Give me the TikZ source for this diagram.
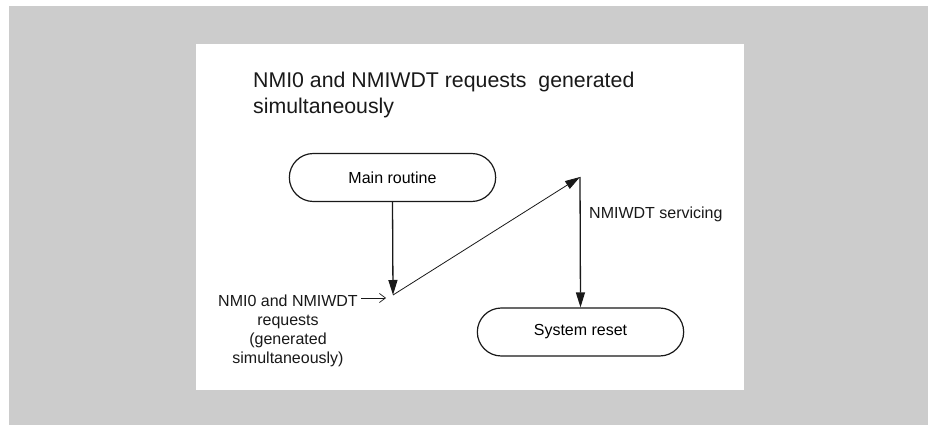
\documentclass[tikz,border=0pt]{standalone}
\usepackage{fontspec}
\setmainfont{Liberation Sans}
\usepackage{tikz}
\usetikzlibrary{arrows.meta,shapes.misc,positioning}
\usepackage{xcolor}
\definecolor{pagegray}{RGB}{204,204,204}
\definecolor{linegray}{RGB}{25,25,25}
\tikzstyle{state} = [rounded rectangle, draw=linegray, line width=1.2pt, fill=white, minimum width=213pt, minimum height=48pt, font=\fontsize{16}{19}\selectfont]
\tikzstyle{arrow} = [line width=1.3pt, draw=linegray, -{Triangle[length=15pt,width=9pt]}]
\tikzstyle{thinarrow} = [line width=0.8pt, draw=linegray, -{Triangle[length=15pt,width=9pt]}]
\tikzstyle{pointer} = [line width=0.7pt, draw=linegray, -{Straight Barb[length=6pt,width=9pt]}]
\tikzstyle{note} = [inner sep=0pt, text=linegray, font=\fontsize{16}{19}\selectfont]

\begin{document}
\begin{tikzpicture}[x=1pt, y=-1pt]
    \useasboundingbox (0,0) rectangle (928,425);
    % Background and panel
    \fill[pagegray] (9,6) rectangle (928,425);
    \fill[white] (196,44) rectangle (744,390);

    % Title
    \node[inner sep=0pt, anchor=north west, align=left, text=linegray, font=\fontsize{21.3}{26}\selectfont] (title) at (253,71.5) {NMI0 and NMIWDT requests\ \ generated\\simultaneously};

    % States
    \node[state] (main) at (392.5,177.5) {Main routine};
    \node[state] (reset) at (580.5,332) {System reset};

    % Turning points
    \coordinate (req) at (393,295);
    \coordinate (nmiwdt) at (580,177);
    \coordinate (reqtail) at (361,298);
    \coordinate (reqhead) at (386,298);

    % Labels
    \node[note, anchor=north, align=center] (reqlabel) at (288,294.5) {NMI0 and NMIWDT\\requests\\(generated\\simultaneously)};
    \node[note, anchor=base west] (servlabel) at (589,218) {NMIWDT servicing};

    % Connecting lines
    \draw[arrow] (main.south) -- (req);
    \draw[thinarrow] (req) -- (nmiwdt);
    \draw[arrow] (nmiwdt) -- (reset.north);
    \draw[pointer] (reqtail) -- (reqhead);
\end{tikzpicture}
\end{document}
